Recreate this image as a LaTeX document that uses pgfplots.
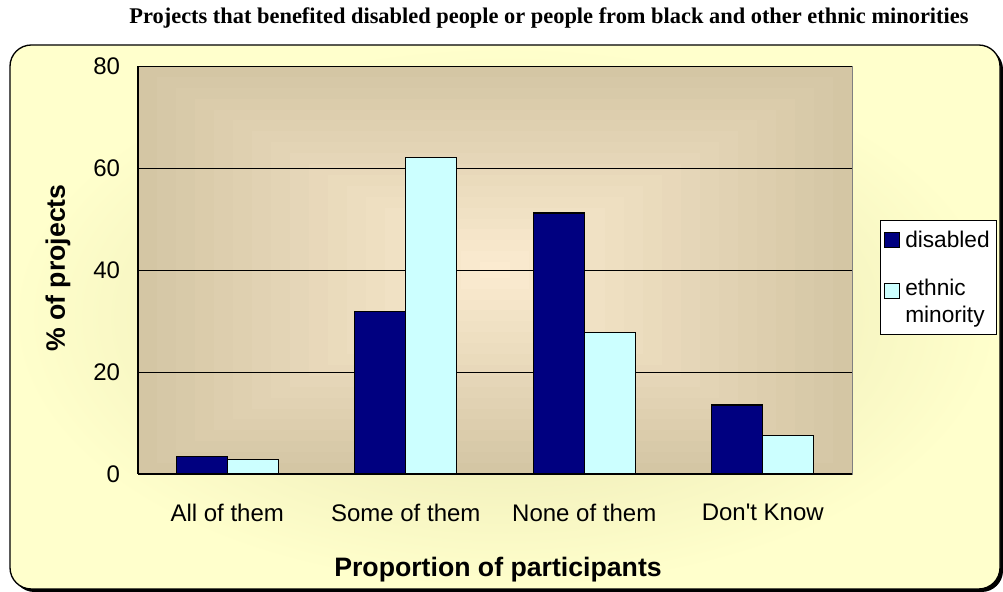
\documentclass[border=0pt]{standalone}
\usepackage{fontspec}
\setmainfont{Liberation Sans}
\newfontfamily\titlefont{Liberation Serif}
\usepackage{pgfplots}
\pgfplotsset{compat=1.18}

\definecolor{navybar}{HTML}{000080}
\definecolor{cyanbar}{HTML}{CCFFFF}
\definecolor{paneledge}{HTML}{D4C6A4}
\definecolor{panelmid}{HTML}{FBEBD0}
\definecolor{outerbg}{HTML}{FFFFCC}
\definecolor{outerdark}{HTML}{E4E0AC}

\begin{document}
\begin{tikzpicture}
\begin{scope}[x=0.75pt,y=0.75pt]
\path[use as bounding box] (0,0) rectangle (1003,592);

% chart area with shadow
\fill[black, rounded corners=16pt] (13,0) rectangle (1003,544);
\shade[draw=black, line width=1pt, rounded corners=16pt,
       inner color=outerdark, outer color=outerbg] (10,3) rectangle (1000,547);

% stepped plot-area background, tan at the edges, peach in the middle
\foreach \i in {0,...,18}{
  \pgfmathsetmacro\p{100*\i/18}
  \fill[panelmid!\p!paneledge]
    (138+19*\i,118+10.9*\i) rectangle (852-19*\i,526-10.9*\i);
}
\draw[gray, line width=0.6pt] (138,118) rectangle (852,526);

\node[font=\titlefont\bfseries\fontsize{16.8}{20}\selectfont] at (549,574)
  {Projects that benefited disabled people or people from black and other ethnic minorities};
\node[rotate=90, font=\bfseries\fontsize{20}{24}\selectfont] at (58,324) {\% of projects};
\node[font=\bfseries\fontsize{20}{24}\selectfont] at (498,22) {Proportion of participants};
\end{scope}

% origin = first category at y=0: x = (138 + 89.25) px
\begin{axis}[
    at={(170.44pt,88.5pt)}, anchor=origin,
    scale only axis,
    width=535.5pt, height=306pt,
    ymin=0, ymax=80,
    ytick={0,20,40,60,80},
    xmin=-0.5, xmax=3.5,
    xtick={0,1,2,3},
    xticklabels={All of them,Some of them,None of them,Don\textquotesingle t Know},
    ybar=0pt,
    bar width=38.25pt,
    ymajorgrids,
    grid style={black, line width=0.6pt},
    axis x line*=bottom,
    axis y line*=left,
    axis line style={black, line width=0.9pt},
    major tick length=0pt,
    /pgf/number format/assume math mode=true,
    tick label style={font=\fontsize{18}{21}\selectfont},
    yticklabel style={xshift=-10pt},
    xticklabel style={yshift=-19pt},
    legend style={
        at={(axis description cs:1.039,0.6225)}, anchor=north west,
        draw=black, line width=0.7pt, fill=white,
        font=\fontsize{17}{20}\selectfont,
        cells={anchor=west, align=left},
        column sep=2pt,
        row sep=18pt,
        inner xsep=3pt, inner ysep=6pt,
    },
    legend cell align=left,
]

\addplot[fill=navybar, draw=black, line width=1pt,
    legend image code/.code={
        \draw[fill=navybar, draw=black, line width=0.7pt] (0pt,-5pt) rectangle (11pt,6pt);
    }] coordinates {
    (0, 3.4)
    (1, 31.8)
    (2, 51.2)
    (3, 13.5)
};
\addlegendentry{disabled}

\addplot[fill=cyanbar, draw=black, line width=1pt,
    legend image code/.code={
        \draw[fill=cyanbar, draw=black, line width=0.7pt] (0pt,2.5pt) rectangle (11pt,13.5pt);
    }] coordinates {
    (0, 2.8)
    (1, 62.0)
    (2, 27.8)
    (3, 7.5)
};
\addlegendentry{ethnic\\minority}

\end{axis}
\end{tikzpicture}
\end{document}
